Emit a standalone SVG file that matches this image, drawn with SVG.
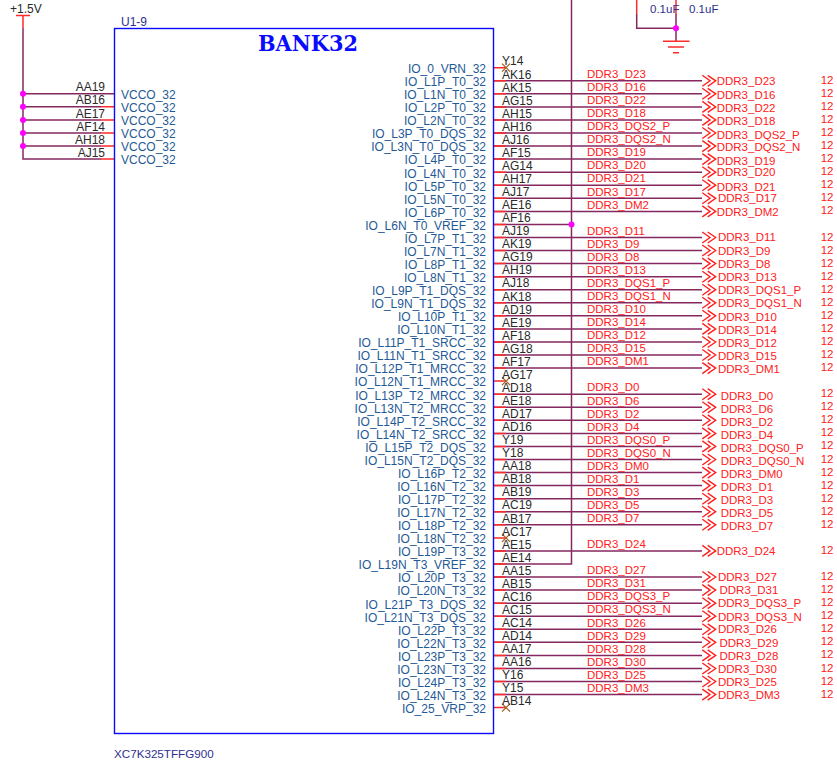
<svg xmlns="http://www.w3.org/2000/svg" width="837" height="761" viewBox="0 0 837 761">
<defs>
<style>
text{font-family:"Liberation Sans",Arial,sans-serif;font-size:12px}
.io{fill:#1f5a96;text-anchor:end}
.vc{fill:#1f5a96}
.pin{fill:#2a2a2a}
.pl{fill:#2a2a2a;text-anchor:end}
.net,.off,.pg{fill:#ff2020;font-size:11.5px}
.cap{fill:#2f2f8f;font-size:11.5px}
.ref{fill:#2f2f8f}
.w{fill:none;stroke:#85285f;stroke-width:1.5}
.r{fill:none;stroke:#ff2a2a;stroke-width:1.5}
.x{fill:none;stroke:#a05f20;stroke-width:1.2}
.d{fill:#ff00ff}
.c{fill:none;stroke:#ff2020;stroke-width:1.4}
</style>
<path id="oc" class="c" d="M702.3-5.5L710 0L702.3 5.5M707.7-5.5L715.7 0L707.7 5.5"/>
<path id="nc" class="x" d="M502-4L510 4M510-4L502 4"/>
</defs>

<g id="connectors">
<path class="w" d="M23 28V159H101M23 93.7H114M23 106.8H101M23 119.9H101M23 133H101M23 146H101"/>
<path class="r" d="M23 15V28M101 106.8H114M101 119.9H114M101 133H114M101 146H114M101 159H114"/>
<path class="w" d="M571.5 0V564H493"/>
<path class="w" d="M636.7 14V28.3H676M676 14V41"/>
<path class="r" d="M636.7 0V14M676 0V14"/>
<path class="w" d="M493 224.4H571.5"/>
<path class="w" d="M493 80.8H702M493 93.8H702M493 106.9H702M493 119.9H702M493 133H702M493 146.1H702M493 159.1H702M493 172.2H702M493 185.2H702M493 198.3H702M493 211.4H702M493 237.5H702M493 250.5H702M493 263.6H702M493 276.7H702M493 289.7H702M493 302.8H702M493 315.8H702M493 328.9H702M493 342H702M493 355H702M493 368.1H702M493 394.2H702M493 407.3H702M493 420.3H702M493 433.4H702M493 446.4H702M493 459.5H702M493 472.6H702M493 485.6H702M493 498.7H702M493 511.7H702M493 524.8H702M493 550.9H702M493 577H702M493 590.1H702M493 603.2H702M493 616.2H702M493 629.3H702M493 642.3H702M493 655.4H702M493 668.5H702M493 681.5H702M493 694.6H702"/>
<path class="r" d="M493 67.7H506M493 80.8H506M493 93.8H506M493 106.9H506M493 119.9H506M493 133H506M493 146.1H506M493 159.1H506M493 172.2H506M493 185.2H506M493 198.3H506M493 211.4H506M493 224.4H506M493 237.5H506M493 250.5H506M493 263.6H506M493 276.7H506M493 289.7H506M493 302.8H506M493 315.8H506M493 328.9H506M493 342H506M493 355H506M493 368.1H506M493 381.1H506M493 394.2H506M493 407.3H506M493 420.3H506M493 433.4H506M493 446.4H506M493 459.5H506M493 472.6H506M493 485.6H506M493 498.7H506M493 511.7H506M493 524.8H506M493 537.9H506M493 550.9H506M493 564H506M493 577H506M493 590.1H506M493 603.2H506M493 616.2H506M493 629.3H506M493 642.3H506M493 655.4H506M493 668.5H506M493 681.5H506M493 694.6H506M493 707.6H506"/>
<use href="#nc" y="67.7"/><use href="#nc" y="381.1"/><use href="#nc" y="537.9"/><use href="#nc" y="707.6"/>
<circle class="d" cx="23" cy="93.7" r="3"/><circle class="d" cx="23" cy="106.8" r="3"/><circle class="d" cx="23" cy="119.9" r="3"/><circle class="d" cx="23" cy="133" r="3"/><circle class="d" cx="23" cy="146" r="3"/>
<circle class="d" cx="571.5" cy="224.4" r="3"/>
<circle class="d" cx="676" cy="28.3" r="3"/>
</g>

<g id="power-1v5">
<path class="r" d="M16 15.5H30"/>
<text class="pin" x="10" y="13">+1.5V</text>
</g>

<g id="ground">
<path class="r" d="M663 41.3H689.5M668 47H684M673 52.7H679"/>
</g>

<g id="caps">
<text class="cap" x="650" y="12.5">0.1uF</text>
<text class="cap" x="689" y="12.5">0.1uF</text>
</g>

<g id="U1-9">
<rect x="114.5" y="28.5" width="379" height="705" fill="none" stroke="#0a0aff" stroke-width="1.4"/>
<text class="ref" x="121" y="25.7">U1-9</text>
<text x="258" y="51" textLength="100" lengthAdjust="spacingAndGlyphs" style="font-family:'DejaVu Serif',serif;font-weight:bold;font-size:23px" fill="#0a0aff">BANK32</text>
<text class="ref" x="114" y="758" style="font-size:11.65px">XC7K325TFFG900</text>
<g class="vcco">
<text class="vc" x="121" y="99">VCCO_32</text><text class="vc" x="121" y="112">VCCO_32</text><text class="vc" x="121" y="125">VCCO_32</text><text class="vc" x="121" y="138">VCCO_32</text><text class="vc" x="121" y="151">VCCO_32</text><text class="vc" x="121" y="164">VCCO_32</text>
<text class="pl" x="105" y="91.3">AA19</text><text class="pl" x="105" y="104.4">AB16</text><text class="pl" x="105" y="117.5">AE17</text><text class="pl" x="105" y="130.6">AF14</text><text class="pl" x="105" y="143.6">AH18</text><text class="pl" x="105" y="156.7">AJ15</text>
</g>
<g class="names">
<text class="io" x="486" y="73">IO_0_VRN_32</text>
<text class="io" x="486" y="86.1">IO_L1P_T0_32</text>
<text class="io" x="486" y="99.1">IO_L1N_T0_32</text>
<text class="io" x="486" y="112.2">IO_L2P_T0_32</text>
<text class="io" x="486" y="125.2">IO_L2N_T0_32</text>
<text class="io" x="486" y="138.3">IO_L3P_T0_DQS_32</text>
<text class="io" x="486" y="151.4">IO_L3N_T0_DQS_32</text>
<text class="io" x="486" y="164.4">IO_L4P_T0_32</text>
<text class="io" x="486" y="177.5">IO_L4N_T0_32</text>
<text class="io" x="486" y="190.5">IO_L5P_T0_32</text>
<text class="io" x="486" y="203.6">IO_L5N_T0_32</text>
<text class="io" x="486" y="216.7">IO_L6P_T0_32</text>
<text class="io" x="486" y="229.7">IO_L6N_T0_VREF_32</text>
<text class="io" x="486" y="242.8">IO_L7P_T1_32</text>
<text class="io" x="486" y="255.8">IO_L7N_T1_32</text>
<text class="io" x="486" y="268.9">IO_L8P_T1_32</text>
<text class="io" x="486" y="282">IO_L8N_T1_32</text>
<text class="io" x="486" y="295">IO_L9P_T1_DQS_32</text>
<text class="io" x="486" y="308.1">IO_L9N_T1_DQS_32</text>
<text class="io" x="486" y="321.1">IO_L10P_T1_32</text>
<text class="io" x="486" y="334.2">IO_L10N_T1_32</text>
<text class="io" x="486" y="347.3">IO_L11P_T1_SRCC_32</text>
<text class="io" x="486" y="360.3">IO_L11N_T1_SRCC_32</text>
<text class="io" x="486" y="373.4">IO_L12P_T1_MRCC_32</text>
<text class="io" x="486" y="386.4">IO_L12N_T1_MRCC_32</text>
<text class="io" x="486" y="399.5">IO_L13P_T2_MRCC_32</text>
<text class="io" x="486" y="412.6">IO_L13N_T2_MRCC_32</text>
<text class="io" x="486" y="425.6">IO_L14P_T2_SRCC_32</text>
<text class="io" x="486" y="438.7">IO_L14N_T2_SRCC_32</text>
<text class="io" x="486" y="451.7">IO_L15P_T2_DQS_32</text>
<text class="io" x="486" y="464.8">IO_L15N_T2_DQS_32</text>
<text class="io" x="486" y="477.9">IO_L16P_T2_32</text>
<text class="io" x="486" y="490.9">IO_L16N_T2_32</text>
<text class="io" x="486" y="504">IO_L17P_T2_32</text>
<text class="io" x="486" y="517">IO_L17N_T2_32</text>
<text class="io" x="486" y="530.1">IO_L18P_T2_32</text>
<text class="io" x="486" y="543.2">IO_L18N_T2_32</text>
<text class="io" x="486" y="556.2">IO_L19P_T3_32</text>
<text class="io" x="486" y="569.3">IO_L19N_T3_VREF_32</text>
<text class="io" x="486" y="582.3">IO_L20P_T3_32</text>
<text class="io" x="486" y="595.4">IO_L20N_T3_32</text>
<text class="io" x="486" y="608.5">IO_L21P_T3_DQS_32</text>
<text class="io" x="486" y="621.5">IO_L21N_T3_DQS_32</text>
<text class="io" x="486" y="634.6">IO_L22P_T3_32</text>
<text class="io" x="486" y="647.6">IO_L22N_T3_32</text>
<text class="io" x="486" y="660.7">IO_L23P_T3_32</text>
<text class="io" x="486" y="673.8">IO_L23N_T3_32</text>
<text class="io" x="486" y="686.8">IO_L24P_T3_32</text>
<text class="io" x="486" y="699.9">IO_L24N_T3_32</text>
<text class="io" x="486" y="712.9">IO_25_VRP_32</text>
</g>
<g class="pins">
<text class="pin" x="502" y="65.4">Y14</text>
<text class="pin" x="502" y="78.5">AK16</text>
<text class="pin" x="502" y="91.5">AK15</text>
<text class="pin" x="502" y="104.6">AG15</text>
<text class="pin" x="502" y="117.6">AH15</text>
<text class="pin" x="502" y="130.7">AH16</text>
<text class="pin" x="502" y="143.8">AJ16</text>
<text class="pin" x="502" y="156.8">AF15</text>
<text class="pin" x="502" y="169.9">AG14</text>
<text class="pin" x="502" y="182.9">AH17</text>
<text class="pin" x="502" y="196">AJ17</text>
<text class="pin" x="502" y="209.1">AE16</text>
<text class="pin" x="502" y="222.1">AF16</text>
<text class="pin" x="502" y="235.2">AJ19</text>
<text class="pin" x="502" y="248.2">AK19</text>
<text class="pin" x="502" y="261.3">AG19</text>
<text class="pin" x="502" y="274.4">AH19</text>
<text class="pin" x="502" y="287.4">AJ18</text>
<text class="pin" x="502" y="300.5">AK18</text>
<text class="pin" x="502" y="313.5">AD19</text>
<text class="pin" x="502" y="326.6">AE19</text>
<text class="pin" x="502" y="339.7">AF18</text>
<text class="pin" x="502" y="352.7">AG18</text>
<text class="pin" x="502" y="365.8">AF17</text>
<text class="pin" x="502" y="378.8">AG17</text>
<text class="pin" x="502" y="391.9">AD18</text>
<text class="pin" x="502" y="405">AE18</text>
<text class="pin" x="502" y="418">AD17</text>
<text class="pin" x="502" y="431.1">AD16</text>
<text class="pin" x="502" y="444.1">Y19</text>
<text class="pin" x="502" y="457.2">Y18</text>
<text class="pin" x="502" y="470.3">AA18</text>
<text class="pin" x="502" y="483.3">AB18</text>
<text class="pin" x="502" y="496.4">AB19</text>
<text class="pin" x="502" y="509.4">AC19</text>
<text class="pin" x="502" y="522.5">AB17</text>
<text class="pin" x="502" y="535.6">AC17</text>
<text class="pin" x="502" y="548.6">AE15</text>
<text class="pin" x="502" y="561.7">AE14</text>
<text class="pin" x="502" y="574.7">AA15</text>
<text class="pin" x="502" y="587.8">AB15</text>
<text class="pin" x="502" y="600.9">AC16</text>
<text class="pin" x="502" y="613.9">AC15</text>
<text class="pin" x="502" y="627">AC14</text>
<text class="pin" x="502" y="640">AD14</text>
<text class="pin" x="502" y="653.1">AA17</text>
<text class="pin" x="502" y="666.2">AA16</text>
<text class="pin" x="502" y="679.2">Y16</text>
<text class="pin" x="502" y="692.3">Y15</text>
<text class="pin" x="502" y="705.3">AB14</text>
</g>
</g>

<g id="net-labels">
<text class="net" x="587" y="78">DDR3_D23</text>
<text class="net" x="587" y="91">DDR3_D16</text>
<text class="net" x="587" y="104.1">DDR3_D22</text>
<text class="net" x="587" y="117.1">DDR3_D18</text>
<text class="net" x="587" y="130.2">DDR3_DQS2_P</text>
<text class="net" x="587" y="143.3">DDR3_DQS2_N</text>
<text class="net" x="587" y="156.3">DDR3_D19</text>
<text class="net" x="587" y="169.4">DDR3_D20</text>
<text class="net" x="587" y="182.4">DDR3_D21</text>
<text class="net" x="587" y="195.5">DDR3_D17</text>
<text class="net" x="587" y="208.6">DDR3_DM2</text>
<text class="net" x="587" y="234.7">DDR3_D11</text>
<text class="net" x="587" y="247.7">DDR3_D9</text>
<text class="net" x="587" y="260.8">DDR3_D8</text>
<text class="net" x="587" y="273.9">DDR3_D13</text>
<text class="net" x="587" y="286.9">DDR3_DQS1_P</text>
<text class="net" x="587" y="300">DDR3_DQS1_N</text>
<text class="net" x="587" y="313">DDR3_D10</text>
<text class="net" x="587" y="326.1">DDR3_D14</text>
<text class="net" x="587" y="339.2">DDR3_D12</text>
<text class="net" x="587" y="352.2">DDR3_D15</text>
<text class="net" x="587" y="365.3">DDR3_DM1</text>
<text class="net" x="587" y="391.4">DDR3_D0</text>
<text class="net" x="587" y="404.5">DDR3_D6</text>
<text class="net" x="587" y="417.5">DDR3_D2</text>
<text class="net" x="587" y="430.6">DDR3_D4</text>
<text class="net" x="587" y="443.6">DDR3_DQS0_P</text>
<text class="net" x="587" y="456.7">DDR3_DQS0_N</text>
<text class="net" x="587" y="469.8">DDR3_DM0</text>
<text class="net" x="587" y="482.8">DDR3_D1</text>
<text class="net" x="587" y="495.9">DDR3_D3</text>
<text class="net" x="587" y="508.9">DDR3_D5</text>
<text class="net" x="587" y="522">DDR3_D7</text>
<text class="net" x="587" y="548.1">DDR3_D24</text>
<text class="net" x="587" y="574.2">DDR3_D27</text>
<text class="net" x="587" y="587.3">DDR3_D31</text>
<text class="net" x="587" y="600.4">DDR3_DQS3_P</text>
<text class="net" x="587" y="613.4">DDR3_DQS3_N</text>
<text class="net" x="587" y="626.5">DDR3_D26</text>
<text class="net" x="587" y="639.5">DDR3_D29</text>
<text class="net" x="587" y="652.6">DDR3_D28</text>
<text class="net" x="587" y="665.7">DDR3_D30</text>
<text class="net" x="587" y="678.7">DDR3_D25</text>
<text class="net" x="587" y="691.8">DDR3_DM3</text>
</g>

<g id="off-page-connectors">
<use href="#oc" y="80.8"/><use href="#oc" y="93.8"/><use href="#oc" y="106.9"/><use href="#oc" y="119.9"/><use href="#oc" y="133"/><use href="#oc" y="146.1"/><use href="#oc" y="159.1"/><use href="#oc" y="172.2"/><use href="#oc" y="185.2"/><use href="#oc" y="198.3"/><use href="#oc" y="211.4"/>
<use href="#oc" y="237.5"/><use href="#oc" y="250.5"/><use href="#oc" y="263.6"/><use href="#oc" y="276.7"/><use href="#oc" y="289.7"/><use href="#oc" y="302.8"/><use href="#oc" y="315.8"/><use href="#oc" y="328.9"/><use href="#oc" y="342"/><use href="#oc" y="355"/><use href="#oc" y="368.1"/>
<use href="#oc" y="394.2"/><use href="#oc" y="407.3"/><use href="#oc" y="420.3"/><use href="#oc" y="433.4"/><use href="#oc" y="446.4"/><use href="#oc" y="459.5"/><use href="#oc" y="472.6"/><use href="#oc" y="485.6"/><use href="#oc" y="498.7"/><use href="#oc" y="511.7"/><use href="#oc" y="524.8"/>
<use href="#oc" y="550.9"/>
<use href="#oc" y="577"/><use href="#oc" y="590.1"/><use href="#oc" y="603.2"/><use href="#oc" y="616.2"/><use href="#oc" y="629.3"/><use href="#oc" y="642.3"/><use href="#oc" y="655.4"/><use href="#oc" y="668.5"/><use href="#oc" y="681.5"/><use href="#oc" y="694.6"/>
<text class="off" x="716.7" y="85.2">DDR3_D23</text><text class="pg" x="820.7" y="84">12</text>
<text class="off" x="716.7" y="99">DDR3_D16</text><text class="pg" x="820.7" y="97">12</text>
<text class="off" x="716.7" y="112.2">DDR3_D22</text><text class="pg" x="820.7" y="110">12</text>
<text class="off" x="716.7" y="125">DDR3_D18</text><text class="pg" x="820.7" y="123">12</text>
<text class="off" x="716.7" y="139">DDR3_DQS2_P</text><text class="pg" x="820.7" y="136">12</text>
<text class="off" x="716.7" y="151">DDR3_DQS2_N</text><text class="pg" x="820.7" y="149">12</text>
<text class="off" x="716.7" y="165">DDR3_D19</text><text class="pg" x="820.7" y="162">12</text>
<text class="off" x="716.7" y="176">DDR3_D20</text><text class="pg" x="820.7" y="175">12</text>
<text class="off" x="716.7" y="191">DDR3_D21</text><text class="pg" x="820.7" y="188">12</text>
<text class="off" x="718" y="202">DDR3_D17</text><text class="pg" x="820.7" y="201">12</text>
<text class="off" x="716.7" y="216">DDR3_DM2</text><text class="pg" x="820.7" y="214.3">12</text>
<text class="off" x="718" y="241">DDR3_D11</text><text class="pg" x="820.7" y="240.5">12</text>
<text class="off" x="718" y="255">DDR3_D9</text><text class="pg" x="820.7" y="253.5">12</text>
<text class="off" x="718" y="268">DDR3_D8</text><text class="pg" x="820.7" y="266.5">12</text>
<text class="off" x="718" y="281">DDR3_D13</text><text class="pg" x="820.7" y="279.7">12</text>
<text class="off" x="718" y="294">DDR3_DQS1_P</text><text class="pg" x="820.7" y="292.7">12</text>
<text class="off" x="718" y="307">DDR3_DQS1_N</text><text class="pg" x="820.7" y="305.8">12</text>
<text class="off" x="718" y="321">DDR3_D10</text><text class="pg" x="820.7" y="318.8">12</text>
<text class="off" x="718" y="334">DDR3_D14</text><text class="pg" x="820.7" y="331.9">12</text>
<text class="off" x="718" y="346.5">DDR3_D12</text><text class="pg" x="820.7" y="345">12</text>
<text class="off" x="718" y="359.5">DDR3_D15</text><text class="pg" x="820.7" y="358">12</text>
<text class="off" x="718" y="372.5">DDR3_DM1</text><text class="pg" x="820.7" y="371.1">12</text>
<text class="off" x="720.7" y="400">DDR3_D0</text><text class="pg" x="820.7" y="397.2">12</text>
<text class="off" x="720.7" y="413">DDR3_D6</text><text class="pg" x="820.7" y="410.3">12</text>
<text class="off" x="720.7" y="426">DDR3_D2</text><text class="pg" x="820.7" y="423.3">12</text>
<text class="off" x="720.7" y="439">DDR3_D4</text><text class="pg" x="820.7" y="436.4">12</text>
<text class="off" x="720.7" y="452">DDR3_DQS0_P</text><text class="pg" x="820.7" y="449.4">12</text>
<text class="off" x="720.7" y="465">DDR3_DQS0_N</text><text class="pg" x="820.7" y="462.5">12</text>
<text class="off" x="720.7" y="478">DDR3_DM0</text><text class="pg" x="820.7" y="475.6">12</text>
<text class="off" x="720.7" y="491">DDR3_D1</text><text class="pg" x="820.7" y="488.6">12</text>
<text class="off" x="720.7" y="504">DDR3_D3</text><text class="pg" x="820.7" y="501.7">12</text>
<text class="off" x="720.7" y="517">DDR3_D5</text><text class="pg" x="820.7" y="514.7">12</text>
<text class="off" x="720.7" y="530">DDR3_D7</text><text class="pg" x="820.7" y="527.8">12</text>
<text class="off" x="716.7" y="555">DDR3_D24</text><text class="pg" x="820.7" y="553.9">12</text>
<text class="off" x="718" y="581">DDR3_D27</text><text class="pg" x="820.7" y="580">12</text>
<text class="off" x="719.5" y="594">DDR3_D31</text><text class="pg" x="820.7" y="593.1">12</text>
<text class="off" x="718" y="607">DDR3_DQS3_P</text><text class="pg" x="820.7" y="606.2">12</text>
<text class="off" x="718" y="621">DDR3_DQS3_N</text><text class="pg" x="820.7" y="619.2">12</text>
<text class="off" x="718" y="633">DDR3_D26</text><text class="pg" x="820.7" y="632.3">12</text>
<text class="off" x="719.5" y="647">DDR3_D29</text><text class="pg" x="820.7" y="645.3">12</text>
<text class="off" x="719.5" y="660">DDR3_D28</text><text class="pg" x="820.7" y="658.4">12</text>
<text class="off" x="718" y="673">DDR3_D30</text><text class="pg" x="820.7" y="671.5">12</text>
<text class="off" x="718" y="686">DDR3_D25</text><text class="pg" x="820.7" y="684.5">12</text>
<text class="off" x="718" y="699">DDR3_DM3</text><text class="pg" x="820.7" y="697.6">12</text>
</g>
</svg>
